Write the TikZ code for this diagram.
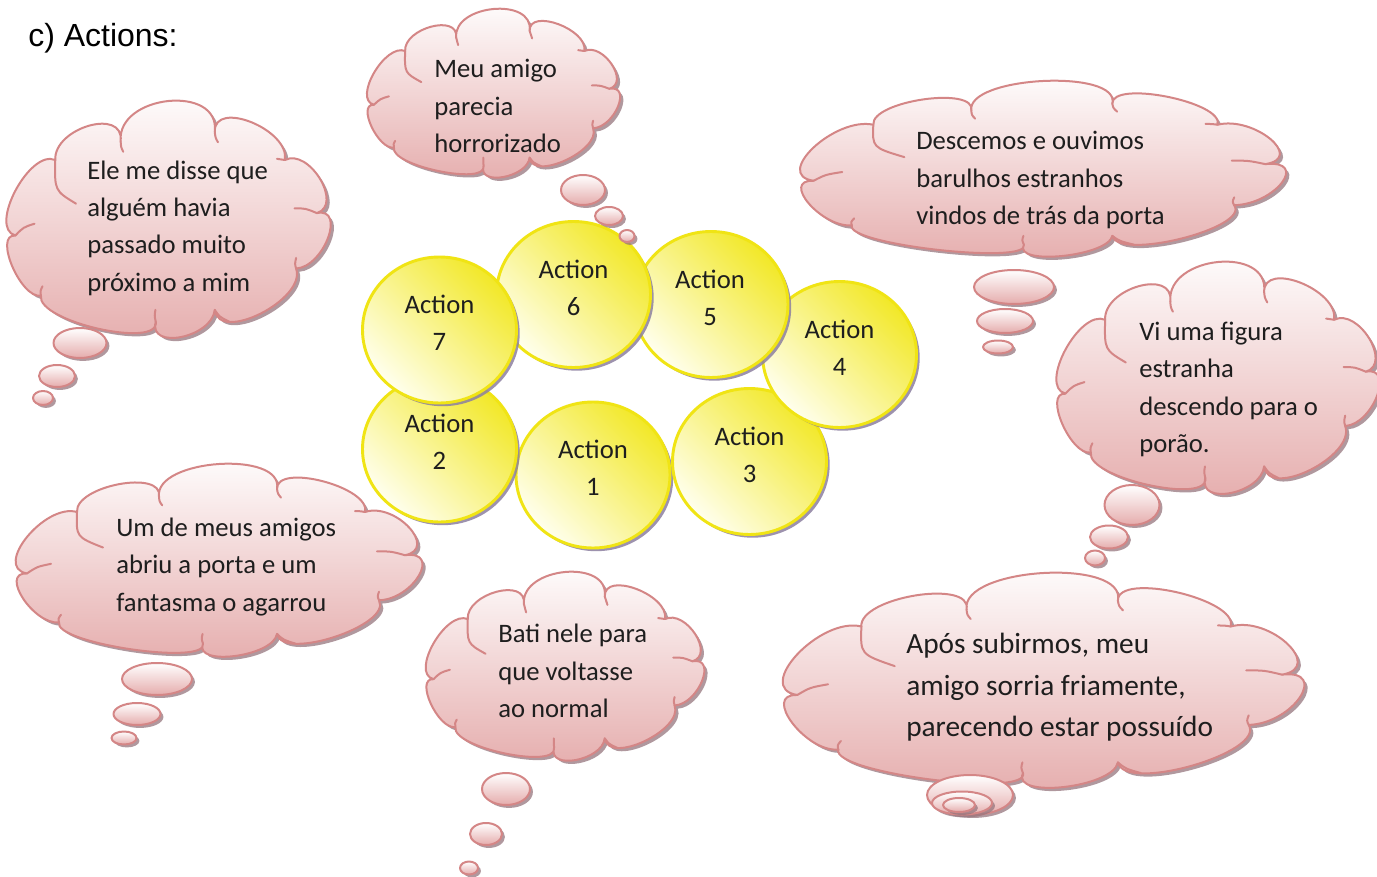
\documentclass[tikz,border=0pt]{standalone}
\usepackage{fontspec}
\setmainfont{Carlito}
\newfontfamily\headfont{Liberation Sans}
\usetikzlibrary{shapes.geometric,shadows,calc}

\definecolor{cloudedge}{RGB}{212,134,134}
\definecolor{cloudfill}{RGB}{229,172,172}
\definecolor{cloudshadow}{RGB}{150,118,126}
\definecolor{ballfill}{RGB}{242,232,40}
\definecolor{ballwhite}{RGB}{255,255,238}
\definecolor{balledge}{RGB}{240,228,20}
\definecolor{ballshadow}{RGB}{140,128,160}
\definecolor{ink}{RGB}{30,30,30}

% one puff of a cloud: from #1 through #2 (half way) to #3, #4 widens the puff
\newcommand\lobe[4]{.. controls
  ($ {1/3+#4/2}*(#1) + {4/3}*(#2) + {-(2/3+#4/2)}*(#3) $) and
  ($ {1/3+#4/2}*(#3) + {4/3}*(#2) + {-(2/3+#4/2)}*(#1) $) .. (#3)}

% cloud outline in a 100 x 100 frame, y pointing down
\newcommand\cloudoutline{(2,57)
  \lobe{2,57}{2,38}{14.5,25}{0.05}
  \lobe{14.5,25}{25,10.5}{35,17}{0.08}
  \lobe{35,17}{50,0}{64.5,13}{0.1}
  \lobe{64.5,13}{76,9}{86.5,25}{0.08}
  \lobe{86.5,25}{97.5,33}{96.5,47.5}{0.08}
  \lobe{96.5,47.5}{100,58}{90,71}{0.08}
  \lobe{90,71}{79,90}{64.5,88.5}{0.08}
  \lobe{64.5,88.5}{54,100}{46,93.5}{0.08}
  \lobe{46,93.5}{28,96.5}{10,82.5}{0.08}
  \lobe{10,82.5}{1,70}{2,57}{0.08}
  -- cycle}

% creases where the puffs meet
\newcommand\cloudcreases{%
  (14.5,25) .. controls (14.3,38) .. (21,43.5)
  (35,17) .. controls (35.1,19.5) .. (35.8,21.5)
  (64.5,13) .. controls (64.7,15.5) .. (65.5,17.5)
  (86.5,25) .. controls (85.5,24.6) .. (84,24.5)
  (96.5,47.5) .. controls (93,45.5) .. (89.5,45.5)
  (90,71) .. controls (89.6,69) .. (90,66.5)
  (64.5,88.5) .. controls (66,91.5) .. (69,93.5)
  (46,93.5) .. controls (45.6,91) .. (45.9,88.5)
  (10,82.5) .. controls (9.8,80.5) .. (10.5,78.5)
  (2,57) .. controls (4.5,53.5) .. (8,52)}

\tikzset{
  cloudbody/.style={draw=cloudedge, line width=1.5pt, top color=white, bottom color=cloudfill},
  cloudshade/.style={fill=cloudshadow, opacity=0.75},
  cloudline/.style={draw=cloudedge, line width=1.5pt, line cap=round},
  bubble/.style={ellipse, inner sep=0pt, draw=cloudedge, line width=1.5pt,
    top color=white, bottom color=cloudfill,
    drop shadow={shadow xshift=2.2pt, shadow yshift=-2.2pt, fill=cloudshadow, opacity=0.75}},
  actionball/.style={ellipse, inner sep=0pt, minimum width={154*0.75pt}, minimum height={146*0.75pt},
    draw=balledge, line width=2.2pt, top color=ballfill, bottom color=ballwhite, shading angle=-45,
    drop shadow={shadow xshift=2.4pt, shadow yshift=-2.4pt, fill=ballshadow, opacity=0.85}},
  actiontext/.style={align=center, text=ink, inner sep=0pt, font=\fontsize{20}{27.75}\selectfont},
  cloudtext/.style={align=left, anchor=west, text=ink, inner sep=0pt, font=\fontsize{20}{28}\selectfont},
  bigcloudtext/.style={align=left, anchor=west, text=ink, inner sep=0pt, font=\fontsize{22}{31}\selectfont},
}

% cloud body: left, top, width, height (outer extent)
\newcommand\drawcloud[4]{%
  \pgfmathsetmacro\cux{#3*0.75/100}%
  \pgfmathsetmacro\cuy{#4*0.75/100}%
  \begin{scope}[shift={(#1,#2)}, x=\cux pt, y=-\cuy pt]
    \fill[cloudshade, shift={(2.4pt,-2.4pt)}] \cloudoutline;
    \path[cloudbody] \cloudoutline;
    \draw[cloudline] \cloudcreases;
  \end{scope}}

% thought bubble: name, centre x, centre y, width, height
\newcommand\bubble[5]{\node[bubble, minimum width={#4*0.75pt}, minimum height={#5*0.75pt}] (#1) at (#2,#3) {};}

\begin{document}
\begin{tikzpicture}[x=0.75pt, y=-0.75pt, line join=round]
\useasboundingbox (0,0) rectangle (1377,877);
\fill[white] (0,0) rectangle (1377,877);

\node[anchor=west, inner sep=0pt, font=\headfont\fontsize{24}{28}\selectfont] (title) at (28,38) {c) Actions:};

% action circles, drawn in order so later ones overlap earlier ones
\node[actionball] (a1) at (593,475) {};
\node[actiontext] (t1) at (593,468) {Action\\1};
\node[actionball] (a2) at (439.5,449) {};
\node[actiontext] (t2) at (439.5,442) {Action\\2};
\node[actionball] (a3) at (749.5,461.5) {};
\node[actiontext] (t3) at (749.5,454.5) {Action\\3};
\node[actionball] (a4) at (839.5,354.5) {};
\node[actiontext] (t4) at (839.5,347.5) {Action\\4};
\node[actionball] (a5) at (711,304.5) {};
\node[actiontext] (t5) at (710,297.5) {Action\\5};
\node[actionball] (a6) at (573.5,294.5) {};
\node[actiontext] (t6) at (573.5,287.5) {Action\\6};
\node[actionball] (a7) at (439.5,330) {};
\node[actiontext] (t7) at (439.5,323) {Action\\7};

% thought clouds
\drawcloud{9}{101}{319}{236}
\bubble{ba1}{80}{343}{53}{30}
\bubble{ba2}{57}{376}{36}{22}
\bubble{ba3}{43}{398}{20}{14}
\node[cloudtext] (ca) at (87,228) {Ele me disse que\\alguém havia\\passado muito\\próximo a mim};

\drawcloud{369}{9}{249}{168}
\bubble{bb1}{583}{190}{44}{30}
\bubble{bb2}{609}{216}{28}{18}
\bubble{bb3}{627}{236}{15}{12}
\node[cloudtext] (cb) at (434,106) {Meu amigo\\parecia\\horrorizado};

\drawcloud{804}{81}{478}{175}
\bubble{bc1}{1014}{287}{80}{34}
\bubble{bc2}{1005}{321}{56}{24}
\bubble{bc3}{998}{347}{30}{13}
\node[cloudtext] (cc) at (916,180) {Descemos e ouvimos\\barulhos estranhos\\vindos de trás da porta};

\drawcloud{1059}{262}{318}{231}
\bubble{bd1}{1132}{505}{55}{40}
\bubble{bd2}{1109}{537}{38}{23}
\bubble{bd3}{1095}{558}{20}{15}
\node[cloudtext] (cd) at (1139,389.5) {Vi uma figura\\estranha\\descendo para o\\porão.};

\drawcloud{19}{464}{400}{192}
\bubble{be1}{157}{679}{70}{32}
\bubble{be2}{137}{714}{47}{22}
\bubble{be3}{124}{738}{25}{13}
\node[cloudtext] (ce) at (116,567) {Um de meus amigos\\abriu a porta e um\\fantasma o agarrou};

\drawcloud{428}{572}{274}{188}
\bubble{bf1}{506}{789}{48}{32}
\bubble{bf2}{486}{834}{32}{22}
\bubble{bf3}{469}{868}{18}{13}
\node[cloudtext] (cf) at (498,671) {Bati nele para\\que voltasse\\ao normal};

\drawcloud{787}{573}{513}{214}
\bubble{bg1}{970}{795}{86}{40}
\bubble{bg2}{962}{803}{60}{23}
\bubble{bg3}{959}{805}{32}{14}
\node[bigcloudtext] (cg) at (906,687.5) {Após subirmos, meu\\amigo sorria friamente,\\parecendo estar possuído};
\end{tikzpicture}
\end{document}
